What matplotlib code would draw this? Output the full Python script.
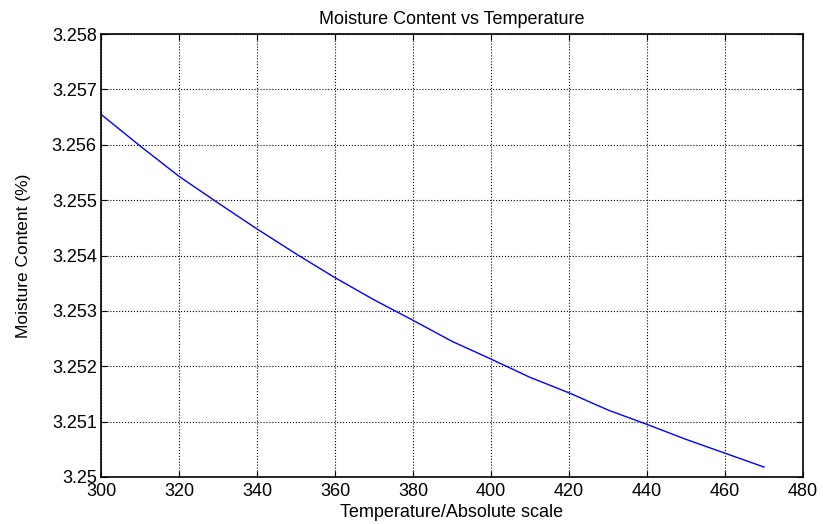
import numpy as np
import matplotlib.pyplot as plt

plt.rcParams['font.family'] = ['Liberation Sans', 'DejaVu Sans']

temp = [300, 310, 320, 330, 340, 350, 360, 370, 380, 390,
        400, 410, 420, 430, 440, 450, 460, 470]
moisture = [3.25655, 3.25598, 3.25543, 3.25495, 3.25448, 3.25403, 3.25360, 3.25320, 3.25283,
            3.25245, 3.25213, 3.25180, 3.25152, 3.25121, 3.25095, 3.25068, 3.25043, 3.25018]

fig = plt.figure(figsize=(8.23, 5.24), dpi=100)
ax = fig.add_axes([0.1227, 0.0897, 0.853, 0.8454])
ax.plot(temp, moisture, color='blue', linewidth=1)

ax.set_xlim(300, 480)
ax.set_ylim(3.25, 3.258)
ax.set_xticks(np.arange(300, 481, 20))
yt = np.arange(3.25, 3.2581, 0.001)
ax.set_yticks(yt)
ax.set_yticklabels(['3.25'] + ['%.3f' % v for v in yt[1:]])
ax.grid(True, color='black', linestyle=':', linewidth=0.8)
ax.tick_params(direction='in', top=True, right=True, labelsize=13, length=4, pad=3)
ax.tick_params(axis='x', pad=4)
for s in ax.spines.values():
    s.set_linewidth(1.2)

ax.set_title('Moisture Content vs Temperature', fontsize=13, pad=7)
ax.set_xlabel('Temperature/Absolute scale', fontsize=13, labelpad=3)
ax.set_ylabel('Moisture Content (%)', fontsize=12.5, labelpad=15)

fig.savefig('out.png', dpi=100)
